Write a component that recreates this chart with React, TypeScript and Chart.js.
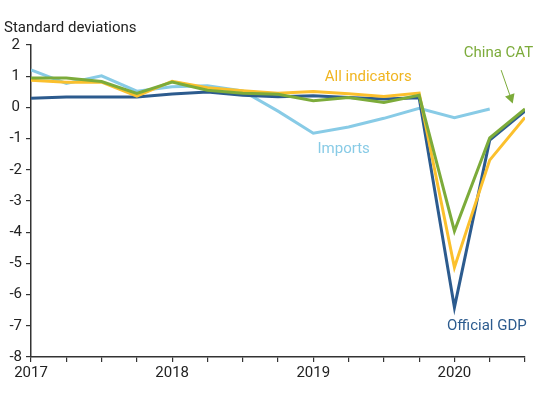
import React, { useEffect, useRef } from "react";
import { Chart, registerables } from "chart.js";

Chart.register(...registerables);

const quarters = [2017, 2017.25, 2017.5, 2017.75, 2018, 2018.25, 2018.5, 2018.75, 2019, 2019.25, 2019.5, 2019.75, 2020, 2020.25, 2020.5];
const officialGdp = [0.29, 0.33, 0.33, 0.33, 0.43, 0.49, 0.39, 0.34, 0.37, 0.32, 0.27, 0.31, -6.41, -1.05, -0.12];
const allIndicators = [0.87, 0.81, 0.81, 0.36, 0.84, 0.63, 0.53, 0.45, 0.51, 0.44, 0.35, 0.46, -5.13, -1.69, -0.32];
const chinaCat = [0.94, 0.94, 0.83, 0.45, 0.81, 0.55, 0.45, 0.42, 0.21, 0.32, 0.16, 0.39, -3.96, -0.98, -0.05];
const imports = [1.2, 0.77, 1.01, 0.52, 0.66, 0.69, 0.53, -0.12, -0.83, -0.63, -0.35, -0.03, -0.33, -0.05];

const yTicks = [2, 1, 0, -1, -2, -3, -4, -5, -6, -7, -8];
const yearLabels = [2017, 2018, 2019, 2020];

const COLORS = {
  gdp: "#2c5b8e",
  all: "#fbc02d",
  cat: "#7cab3a",
  imports: "#88cbe6",
};

const labels = [
  { text: "All indicators", x: 2019.389, y: 0.97, color: "#f0b521" },
  { text: "China CAT", x: 2020.312, y: 1.75, color: COLORS.cat },
  { text: "Imports", x: 2019.215, y: -1.34, color: COLORS.imports },
  { text: "Official GDP", x: 2020.23, y: -7.01, color: COLORS.gdp },
];
const arrow = { x1: 2020.331, y1: 1.195, x2: 2020.413, y2: 0.128, color: COLORS.cat };

const toPts = (vals: number[]) => vals.map((v, i) => ({ x: quarters[i], y: v }));

const annotationPlugin = {
  id: "annot",
  afterDatasetsDraw(chart: any) {
    const ctx = chart.ctx;
    const xs = chart.scales.x;
    const ys = chart.scales.y;
    ctx.save();
    ctx.font = "15px Roboto";
    ctx.textAlign = "left";
    ctx.textBaseline = "middle";
    ctx.fillStyle = "#222";
    ctx.fillText("Standard deviations", 4, 28);
    ctx.textAlign = "center";
    for (const l of labels) {
      ctx.fillStyle = l.color;
      ctx.fillText(l.text, xs.getPixelForValue(l.x), ys.getPixelForValue(l.y));
    }
    const ax1 = xs.getPixelForValue(arrow.x1);
    const ay1 = ys.getPixelForValue(arrow.y1);
    const ax2 = xs.getPixelForValue(arrow.x2);
    const ay2 = ys.getPixelForValue(arrow.y2);
    const ang = Math.atan2(ay2 - ay1, ax2 - ax1);
    const head = 9;
    const bx = ax2 - head * Math.cos(ang);
    const by = ay2 - head * Math.sin(ang);
    ctx.strokeStyle = arrow.color;
    ctx.lineWidth = 1;
    ctx.beginPath();
    ctx.moveTo(ax1, ay1);
    ctx.lineTo(bx, by);
    ctx.stroke();
    ctx.fillStyle = arrow.color;
    ctx.beginPath();
    ctx.moveTo(ax2, ay2);
    ctx.lineTo(bx + 5 * Math.sin(ang), by - 5 * Math.cos(ang));
    ctx.lineTo(bx - 5 * Math.sin(ang), by + 5 * Math.cos(ang));
    ctx.closePath();
    ctx.fill();
    ctx.restore();
  },
};

export default function App() {
  const ref = useRef<HTMLCanvasElement>(null);
  useEffect(() => {
    document.body.style.margin = "0";
    Chart.defaults.font.family = "Roboto";
    const line = (label: string, vals: number[], color: string, order: number) => ({
      label,
      data: toPts(vals),
      borderColor: color,
      backgroundColor: color,
      borderWidth: 3,
      pointRadius: 0,
      tension: 0,
      fill: false,
      order,
    });
    const chart = new Chart(ref.current!, {
      type: "line",
      data: {
        datasets: [
          line("Imports", imports, COLORS.imports, 3),
          line("Official GDP", officialGdp, COLORS.gdp, 2),
          line("All indicators", allIndicators, COLORS.all, 1),
          line("China CAT", chinaCat, COLORS.cat, 0),
        ],
      },
      options: {
        responsive: false,
        animation: false,
        devicePixelRatio: 1,
        layout: { padding: { top: 45, right: 21, left: 0, bottom: 0 } },
        plugins: { legend: { display: false }, tooltip: { enabled: false } },
        scales: {
          x: {
            type: "linear",
            min: quarters[0],
            max: quarters[quarters.length - 1],
            afterFit: (s: any) => { s.height = 37; },
            grid: { drawOnChartArea: false, drawTicks: true, tickLength: 5, color: "#333", lineWidth: 1.2 },
            border: { display: true, color: "#333", width: 1.5 },
            ticks: {
              stepSize: 0.25,
              autoSkip: false,
              maxRotation: 0,
              padding: 2,
              color: "#222",
              font: { size: 15 },
              callback: (v: any) => (yearLabels.includes(Number(v)) ? String(v) : ""),
            },
          },
          y: {
            min: yTicks[yTicks.length - 1],
            max: yTicks[0],
            afterFit: (s: any) => { s.width = 31; },
            grid: { drawOnChartArea: false, drawTicks: true, tickLength: 5, color: "#333", lineWidth: 1.2 },
            border: { display: true, color: "#333", width: 1.5 },
            ticks: {
              stepSize: 1,
              crossAlign: "center",
              padding: 4,
              color: "#222",
              font: { size: 15 },
              callback: (v: any) => String(v),
            },
          },
        },
      },
      plugins: [annotationPlugin],
    } as any);
    return () => chart.destroy();
  }, []);
  return (
    <div style={{ width: 546, height: 394 }}>
      <canvas ref={ref} width={546} height={394} />
    </div>
  );
}
